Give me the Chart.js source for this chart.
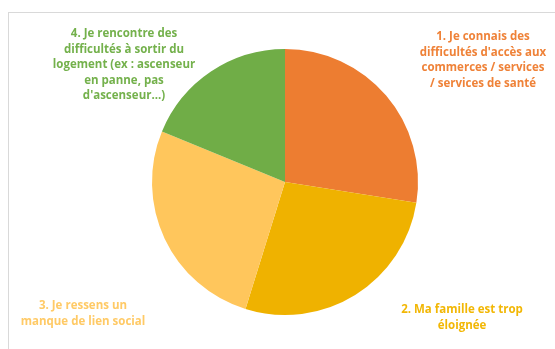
<!DOCTYPE html>
<html lang="fr">
<head>
<meta charset="utf-8">
<script src="https://cdn.jsdelivr.net/npm/chart.js@4"></script>
<style>
    html, body { margin: 0; padding: 0; background: #fff; overflow: hidden; }
    .frame {
        position: absolute; left: 8px; top: 12px;
        width: 600px; height: 400px;
        border: 1px solid #d9d9d9;
    }
    #wrap { position: absolute; left: 0; top: 0; width: 555px; height: 349px; }
</style>
</head>
<body>
<div class="frame"></div>
<div id="wrap"><canvas id="pie"></canvas></div>
<script>
const categories = [
    ['1. Je connais des', "difficultés d'accès aux", 'commerces / services', '/ services de santé'],
    ['2. Ma famille est trop', 'éloignée'],
    ['3. Je ressens un', 'manque de lien social'],
    ['4. Je rencontre des', 'difficultés à sortir du', 'logement (ex : ascenseur', 'en panne, pas', "d'ascenseur...)"]
];
const values = [27.5, 27.3, 26.4, 18.8];
const sliceColors = ['#ED7D31', '#EFB200', '#FFC65C', '#70AD47'];
const labelColors = ['#EF8238', '#F2B705', '#FFCA66', '#74B14C'];

// where each label block sits, relative to the pie centre (dx, dy of first line)
const labelPos = [[198, -145], [177, 128], [-202, 124], [-161, -148]];

const $ = s => document.querySelector(s);

const sideLabels = {
    id: 'sideLabels',
    afterDraw(chart) {
        const { ctx } = chart;
        const arc = chart.getDatasetMeta(0).data[0];
        const cx = arc.x, cy = arc.y;
        ctx.save();
        ctx.font = 'bold 11.5px "Open Sans", sans-serif';
        ctx.textAlign = 'center';
        ctx.textBaseline = 'middle';
        categories.forEach((lines, i) => {
            ctx.fillStyle = labelColors[i];
            const [dx, dy] = labelPos[i];
            lines.forEach((t, j) => ctx.fillText(t, cx + dx, cy + dy + j * 15.5));
        });
        ctx.restore();
    }
};

new Chart($('#pie'), {
    type: 'pie',
    data: {
        labels: categories.map(l => l.join(' ')),
        datasets: [{
            data: values,
            backgroundColor: sliceColors,
            borderWidth: 0
        }]
    },
    options: {
        responsive: true,
        maintainAspectRatio: false,
        animation: false,
        layout: { padding: { top: 49, bottom: 34, left: 152, right: 137 } },
        plugins: {
            legend: { display: false },
            tooltip: { enabled: false }
        }
    },
    plugins: [sideLabels]
});
</script>
</body>
</html>
